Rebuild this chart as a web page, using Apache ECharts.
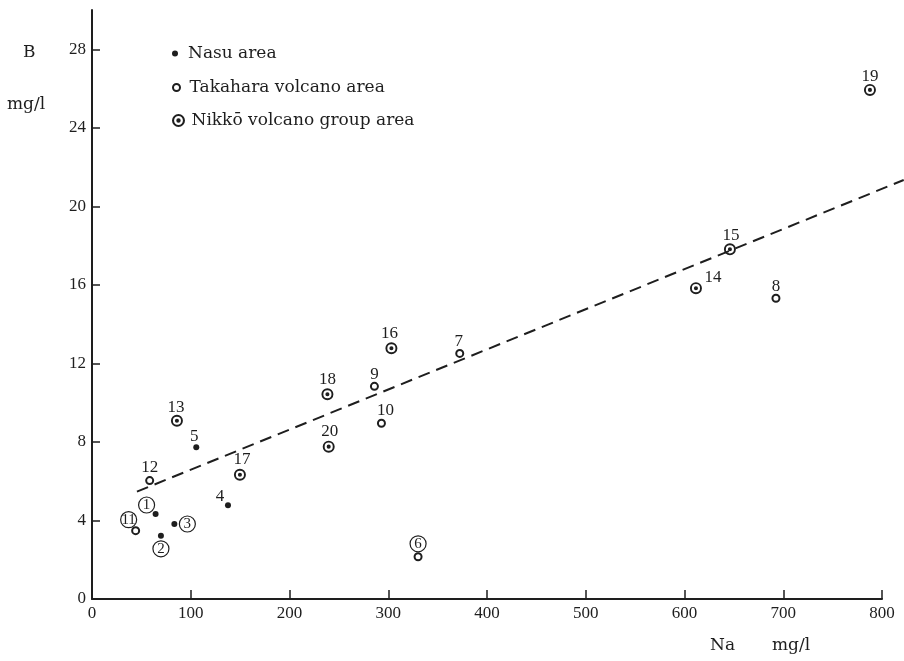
<!DOCTYPE html>
<html>
<head>
<meta charset="utf-8">
<script src="https://cdn.jsdelivr.net/npm/echarts@6/dist/echarts.min.js"></script>
<style>
  html, body { margin: 0; padding: 0; background: #fff; }
  #chart { width: 904px; height: 661px; }
</style>
</head>
<body>
<div id="chart"></div>
<script>
// Na (mg/l), B (mg/l)
const nasuPoints = [[64.4, 4.33], [69.8, 3.22], [83.4, 3.82], [137.7, 4.77], [105.6, 7.73]]
const nasuLabels = ['1', '2', '3', '4', '5']
const takaharaPoints = [[330.2, 2.15], [372.4, 12.51], [692.6, 15.32], [286.0, 10.83], [293.1, 8.95], [44.2, 3.48], [58.4, 6.03]]
const takaharaLabels = ['6', '7', '8', '9', '10', '11', '12']
const nikkoPoints = [[86.0, 9.08], [611.6, 15.83], [646.0, 17.81], [303.2, 12.77], [149.8, 6.33], [238.4, 10.43], [787.8, 25.93], [239.7, 7.76]]
const nikkoLabels = ['13', '14', '15', '16', '17', '18', '19', '20']
const circledLabels = ['1', '2', '3', '6', '11']
const trendLine = [[45.5, 5.47], [822, 21.34]]
const seriesNames = ['Nasu area', 'Takahara volcano area', 'Nikkō volcano group area']

// where each number sits relative to its point (px)
const labelOffset = {
  '1': [-9, -9], '2': [0, 13], '3': [13, 0], '4': [-8, -9], '5': [-2, -11],
  '6': [0, -13], '7': [-1, -12], '8': [0, -12], '9': [0, -12], '10': [4, -13],
  '11': [-7, -11], '12': [0, -13], '13': [-1, -13], '14': [17, -11], '15': [1, -14],
  '16': [-2, -15], '17': [2, -15], '18': [0, -15], '19': [0, -13], '20': [1, -15]
}

const ink = '#1e1e1e'
const serif = 'Liberation Serif'
const textFont = 'DejaVu Serif'
const nikkoSymbol = 'path://M10,0 A10,10 0 1,1 10,20 A10,10 0 1,1 10,0 Z M10,3.2 A6.8,6.8 0 1,0 10,16.8 A6.8,6.8 0 1,0 10,3.2 Z M10,6.6 A3.4,3.4 0 1,1 10,13.4 A3.4,3.4 0 1,1 10,6.6 Z'

function toItems(points, labels) {
  return points.map((p, i) => ({
    value: p,
    name: labels[i],
    label: { offset: labelOffset[labels[i]] }
  }))
}

const pointLabel = {
  show: true,
  position: 'inside',
  color: ink,
  fontFamily: serif,
  fontSize: 17,
  formatter: (p) => circledLabels.includes(p.name) ? '{c|' + p.name + '}' : p.name,
  rich: {
    c: {
      fontFamily: serif,
      fontSize: 15,
      color: ink,
      width: 16,
      height: 16,
      lineHeight: 16,
      align: 'center',
      borderColor: ink,
      borderWidth: 1.2,
      borderRadius: 9
    }
  }
}

const chart = echarts.init(document.getElementById('chart'))

function legendFor(name, top, size) {
  return {
    data: [name],
    left: 167,
    top: top,
    itemWidth: 16,
    itemHeight: size,
    itemGap: 0,
    selectedMode: false,
    textStyle: { fontFamily: textFont, fontSize: 17, color: ink }
  }
}

const hiddenAxis = {
  show: false,
  axisLine: { show: false },
  axisTick: { show: false },
  axisLabel: { show: false },
  splitLine: { show: false }
}

chart.setOption({
  backgroundColor: '#fff',
  animation: false,
  grid: [
    { left: 92, right: 22, top: 10, bottom: 62 },
    // same scale, wider box, so the fitted line can run past 800
    { left: 92, right: 0, top: 10, bottom: 62 }
  ],
  legend: [
    legendFor(seriesNames[0], 50 - 10, 6),
    legendFor(seriesNames[1], 84 - 10, 7),
    legendFor(seriesNames[2], 117 - 10, 13)
  ],
  xAxis: [{
    type: 'value',
    gridIndex: 0,
    min: 0,
    max: 800,
    interval: 100,
    splitLine: { show: false },
    axisLine: { onZero: false, lineStyle: { color: ink, width: 2 } },
    axisTick: { inside: true, length: 9, lineStyle: { color: ink, width: 1.5 } },
    axisLabel: { color: ink, fontFamily: serif, fontSize: 17, margin: 6 }
  }, Object.assign({ type: 'value', gridIndex: 1, min: 0, max: 800 * 812 / 790 }, hiddenAxis)],
  yAxis: [{
    type: 'value',
    gridIndex: 0,
    min: 0,
    max: 30,
    interval: 4,
    splitLine: { show: false },
    axisLine: { show: true, onZero: false, lineStyle: { color: ink, width: 2 } },
    axisTick: { show: true, inside: true, length: 8, lineStyle: { color: ink, width: 1.5 } },
    axisLabel: { color: ink, fontFamily: serif, fontSize: 17, margin: 6, showMaxLabel: false }
  }, Object.assign({ type: 'value', gridIndex: 1, min: 0, max: 30 }, hiddenAxis)],
  graphic: [
    { type: 'text', left: 23, top: 44, style: { text: 'B', font: '17px "DejaVu Serif"', fill: ink } },
    { type: 'text', left: 7, top: 96, style: { text: 'mg/l', font: '17px "DejaVu Serif"', fill: ink } },
    { type: 'text', left: 710, top: 637, style: { text: 'Na', font: '17px "DejaVu Serif"', fill: ink } },
    { type: 'text', left: 772, top: 637, style: { text: 'mg/l', font: '17px "DejaVu Serif"', fill: ink } }
  ],
  series: [
    {
      name: seriesNames[0],
      type: 'scatter',
      symbol: 'circle',
      symbolSize: 6,
      itemStyle: { color: ink, opacity: 1 },
      label: pointLabel,
      data: toItems(nasuPoints, nasuLabels),
      z: 3
    },
    {
      name: seriesNames[1],
      type: 'scatter',
      symbol: 'circle',
      symbolSize: 7,
      itemStyle: { color: '#fff', borderColor: ink, borderWidth: 2, opacity: 1 },
      label: pointLabel,
      data: toItems(takaharaPoints, takaharaLabels),
      z: 3
    },
    {
      name: seriesNames[2],
      type: 'scatter',
      symbol: nikkoSymbol,
      symbolSize: 12,
      itemStyle: { color: ink, opacity: 1 },
      label: pointLabel,
      data: toItems(nikkoPoints, nikkoLabels),
      z: 3
    },
    {
      type: 'line',
      xAxisIndex: 1,
      yAxisIndex: 1,
      data: trendLine,
      symbol: 'none',
      silent: true,
      lineStyle: { color: ink, width: 2, type: [12, 7] },
      z: 2
    }
  ]
})
</script>
</body>
</html>
